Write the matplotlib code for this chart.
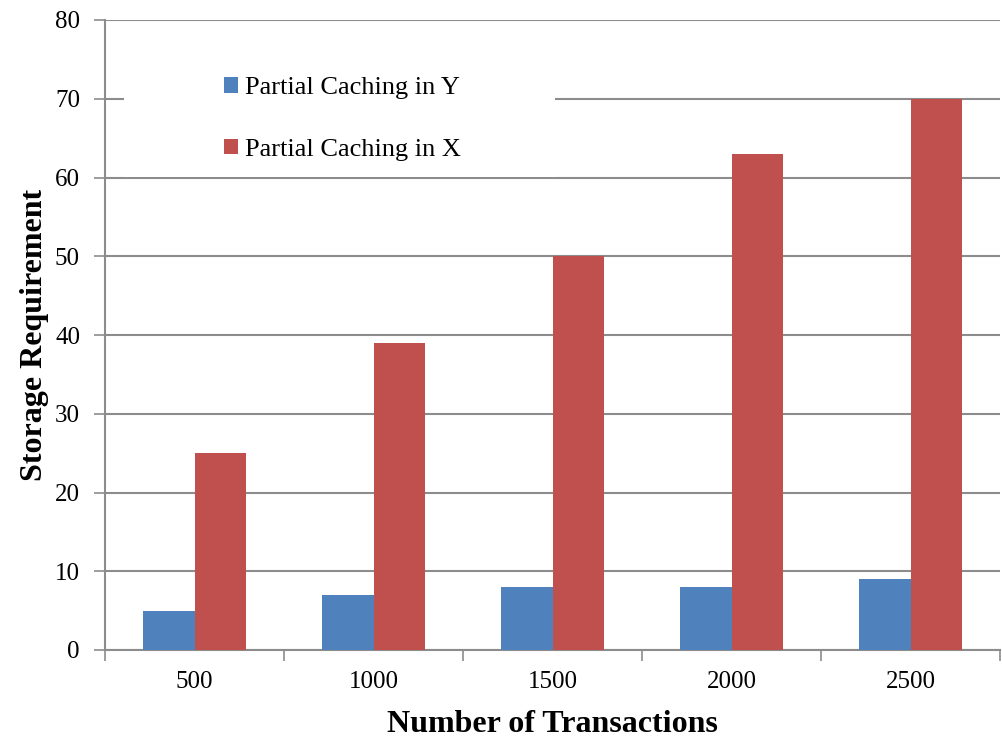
import matplotlib
matplotlib.use("Agg")
import matplotlib.pyplot as plt
from matplotlib.patches import Rectangle
import numpy as np

categories = ["500", "1000", "1500", "2000", "2500"]
caching_y = [5, 7, 8, 8, 9]
caching_x = [25, 39, 50, 63, 70]
series_names = ["Partial Caching in Y", "Partial Caching in X"]
y_ticks = [0, 10, 20, 30, 40, 50, 60, 70, 80]

blue = "#4F81BD"
red = "#C0504D"
grid_col = "#8C8C8C"

plt.rcParams["font.family"] = ["Liberation Serif", "DejaVu Serif"]

fig = plt.figure(figsize=(10.02, 7.42), dpi=100)
ax = fig.add_axes([105 / 1002, 92 / 742, 895 / 1002, 630 / 742])

x = np.arange(len(categories))
w = 1 / 3.5
ax.bar(x - w / 2, caching_y, width=w, color=blue, label=series_names[0], zorder=3)
ax.bar(x + w / 2, caching_x, width=w, color=red, label=series_names[1], zorder=3)

ax.set_xlim(-0.5, len(categories) - 0.5)
ax.set_ylim(0, 80)
ax.set_yticks(y_ticks)
ax.set_yticklabels([str(v) for v in y_ticks], fontsize=18)
ax.yaxis.grid(True, color=grid_col, linewidth=1.5, zorder=0)
ax.set_axisbelow(True)

# group boundaries carry the tick marks, group centres carry the labels
ax.set_xticks(np.arange(len(categories) + 1) - 0.5)
ax.set_xticklabels([])
ax.set_xticks(x, minor=True)
ax.set_xticklabels(categories, minor=True, fontsize=18)
ax.tick_params(axis="x", which="major", length=8, width=1.2, color=grid_col, direction="out")
ax.tick_params(axis="x", which="minor", length=0, pad=15)
ax.tick_params(axis="y", length=8, width=1.2, color=grid_col, direction="out", pad=10)

for side in ["top", "right"]:
    ax.spines[side].set_visible(False)
for side in ["left", "bottom"]:
    ax.spines[side].set_color(grid_col)
    ax.spines[side].set_linewidth(1.5)

ax.set_xlabel("Number of Transactions", fontsize=23, fontweight="bold", labelpad=12)
ax.set_ylabel("Storage Requirement", fontsize=23, fontweight="bold", labelpad=4)

# white legend panel over the gridlines
ax.add_patch(Rectangle(((124 - 105) / 895, (650 - 176.5) / 630), (555 - 124) / 895, (176.5 - 40) / 630,
                       transform=ax.transAxes, facecolor="white", edgecolor="none", zorder=1))
ax.legend(loc="upper left", bbox_to_anchor=((224 - 105) / 895, (650 - 77) / 630),
          frameon=False, fontsize=19, handlelength=0.53, handleheight=0.53,
          handletextpad=0.25, labelspacing=1.5, borderpad=0, borderaxespad=0)

fig.savefig("out.png", dpi=100)
